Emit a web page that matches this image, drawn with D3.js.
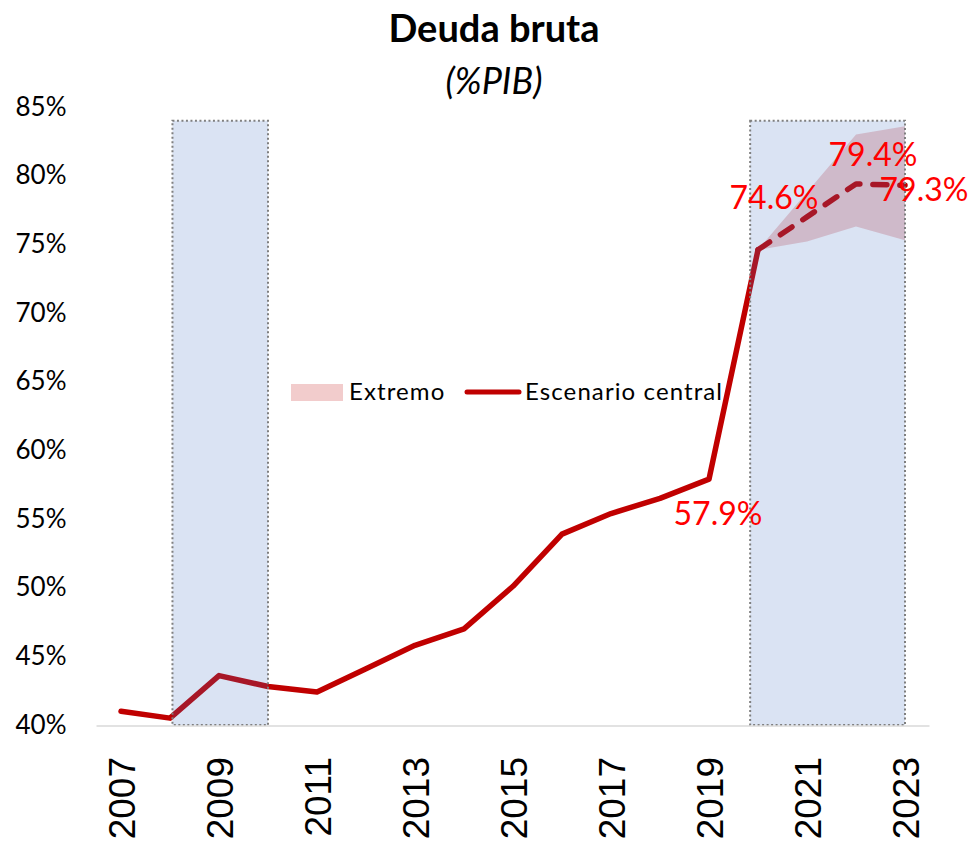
<!DOCTYPE html>
<html>
<head>
<meta charset="utf-8">
<script src="https://cdn.jsdelivr.net/npm/d3@7"></script>
<style>
    body { margin: 0; background: #fff; }
    svg { display: block; }
    text { font-family: Lato, "Open Sans", sans-serif; }
</style>
</head>
<body>
<div id="chart"></div>
<script>
// Deuda bruta (%PIB)
const years = [2007, 2008, 2009, 2010, 2011, 2012, 2013, 2014, 2015, 2016, 2017, 2018, 2019, 2020];
const central = [41.0, 40.5, 43.6, 42.8, 42.4, 44.1, 45.8, 47.0, 50.1, 53.9, 55.4, 56.5, 57.9, 74.6];

const projYears = [2020, 2021, 2022, 2023];
const projCentral = [74.6, 77.0, 79.4, 79.3];
const extremoLow = [74.6, 75.2, 76.3, 75.3];
const extremoHigh = [74.6, 78.8, 83.0, 83.6];

const crisisPeriods = [[2008.05, 2010], [2019.84, 2023]];
const crisisTop = 84;

const yTicks = [40, 45, 50, 55, 60, 65, 70, 75, 80, 85];
const xTicks = [2007, 2009, 2011, 2013, 2015, 2017, 2019, 2021, 2023];

const labels = [
    {year: 2019, value: 57.9},
    {year: 2020, value: 74.6},
    {year: 2022, value: 79.4},
    {year: 2023, value: 79.3}
];

const width = 973, height = 841;

const svg = d3.select('#chart').append('svg')
    .attr('width', width)
    .attr('height', height);

const x = d3.scaleLinear().domain([2007, 2023]).range([121, 905]);
const y = d3.scaleLinear().domain([40, 85]).range([725, 107]);

// title
svg.append('text')
    .attr('x', 494).attr('y', 42)
    .attr('text-anchor', 'middle')
    .style('font-weight', 'bold')
    .style('font-size', '38px')
    .text('Deuda bruta');

svg.append('text')
    .attr('x', 494).attr('y', 94)
    .attr('text-anchor', 'middle')
    .style('font-style', 'italic')
    .style('font-size', '36px')
    .text('(%PIB)');

// extremo band
const area = d3.area()
    .x((d, i) => x(projYears[i]))
    .y0((d, i) => y(extremoLow[i]))
    .y1((d, i) => y(extremoHigh[i]));

svg.append('path')
    .datum(projYears)
    .attr('d', area)
    .attr('fill', 'rgba(192,0,0,0.2)');

// lines
const line = d3.line()
    .x(d => x(d[0]))
    .y(d => y(d[1]));

svg.append('path')
    .datum(d3.zip(years, central))
    .attr('d', line)
    .attr('fill', 'none')
    .attr('stroke', '#c00000')
    .attr('stroke-width', 5.5)
    .attr('stroke-linejoin', 'round')
    .attr('stroke-linecap', 'round');

svg.append('path')
    .datum(d3.zip(projYears, projCentral))
    .attr('d', line)
    .attr('fill', 'none')
    .attr('stroke', '#c00000')
    .attr('stroke-width', 5.5)
    .attr('stroke-dasharray', '14,13')
    .attr('stroke-linejoin', 'round')
    .attr('stroke-linecap', 'round');

// shaded periods (drawn on top, translucent)
svg.append('g')
    .selectAll('rect')
    .data(crisisPeriods)
    .join('rect')
    .attr('x', d => x(d[0]))
    .attr('y', y(crisisTop))
    .attr('width', d => x(d[1]) - x(d[0]))
    .attr('height', y(40) - y(crisisTop))
    .attr('fill', 'rgba(68,114,196,0.2)')
    .attr('stroke', '#7f7f7f')
    .attr('stroke-width', 2)
    .attr('stroke-dasharray', '2,2.5');

// x baseline
svg.append('line')
    .attr('x1', x(2006.5)).attr('x2', x(2023.5))
    .attr('y1', y(40) + 1).attr('y2', y(40) + 1)
    .attr('stroke', '#d9d9d9')
    .attr('stroke-width', 1.5);

// y axis
const yAxis = svg.append('g')
    .attr('transform', `translate(${x(2006.5)},0)`)
    .call(d3.axisLeft(y).tickValues(yTicks).tickSize(0).tickPadding(30).tickFormat(d => d + '%'));
yAxis.select('.domain').remove();
yAxis.selectAll('text')
    .style('font-family', 'Lato, sans-serif')
    .style('font-size', '26px')
    .attr('fill', '#000');

// x axis
const xAxis = svg.append('g')
    .attr('transform', `translate(0,${y(40)})`)
    .call(d3.axisBottom(x).tickValues(xTicks).tickSize(0).tickFormat(d3.format('d')));
xAxis.select('.domain').remove();
xAxis.selectAll('text')
    .attr('transform', 'rotate(-90)')
    .attr('x', -32)
    .attr('y', 0)
    .attr('dy', '0.36em')
    .attr('text-anchor', 'end')
    .style('font-family', '"Liberation Sans", Arial, sans-serif')
    .style('font-size', '37px')
    .attr('fill', '#000');

// data labels
const offsets = {2019: [9, 46], 2020: [16, -41], 2022: [17, -18], 2023: [19, 16]};
svg.append('g')
    .selectAll('text')
    .data(labels)
    .join('text')
    .attr('x', d => x(d.year) + offsets[d.year][0])
    .attr('y', d => y(d.value) + offsets[d.year][1])
    .attr('text-anchor', 'middle')
    .attr('fill', '#ff0000')
    .style('font-size', '32px')
    .text(d => d.value.toFixed(1) + '%');

// legend
const legend = svg.append('g').attr('transform', 'translate(291,392)');
legend.append('rect')
    .attr('x', 0).attr('y', -8)
    .attr('width', 52).attr('height', 17)
    .attr('fill', 'rgba(192,0,0,0.2)');
legend.append('text')
    .attr('x', 58).attr('y', 0)
    .attr('dy', '0.35em')
    .style('font-size', '24px')
    .style('letter-spacing', '1.1px')
    .text('Extremo');
legend.append('line')
    .attr('x1', 176).attr('x2', 228)
    .attr('y1', 0).attr('y2', 0)
    .attr('stroke', '#c00000')
    .attr('stroke-width', 5)
    .attr('stroke-linecap', 'round');
legend.append('text')
    .attr('x', 234).attr('y', 0)
    .attr('dy', '0.35em')
    .style('font-size', '24px')
    .style('letter-spacing', '1.1px')
    .text('Escenario central');
</script>
</body>
</html>
